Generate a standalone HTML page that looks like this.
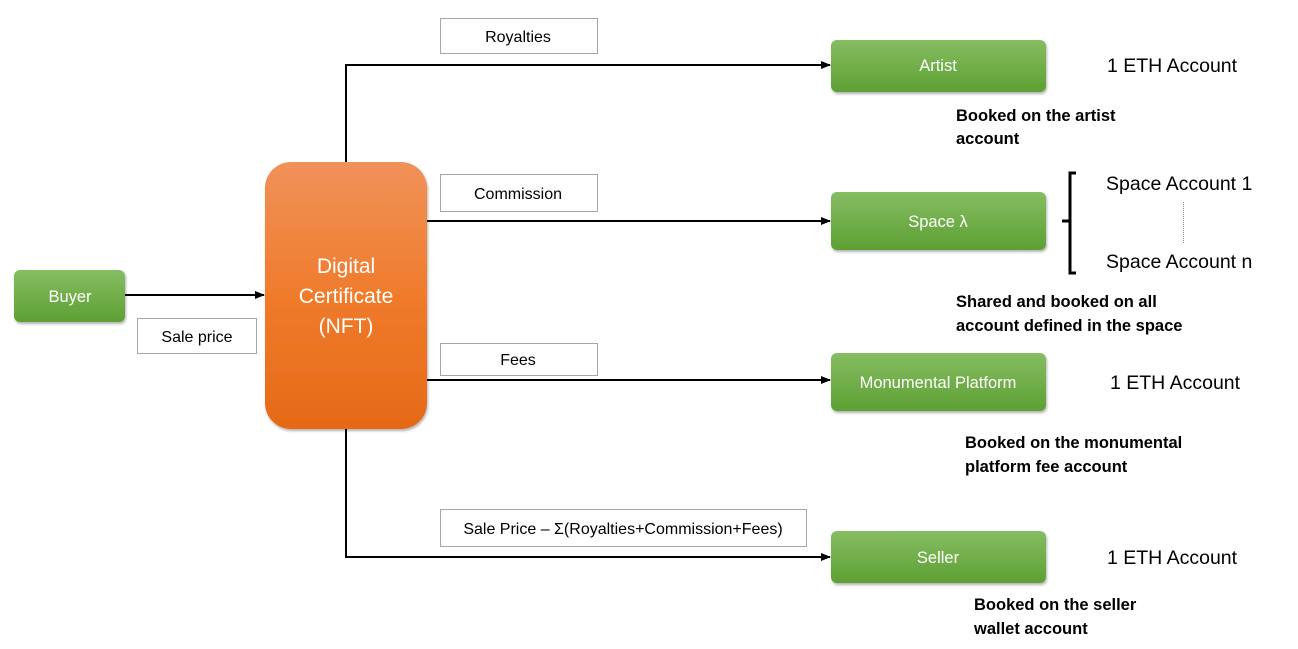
<!DOCTYPE html>
<html><head><meta charset="utf-8"><style>
body{margin:0;background:#fff;}
svg{display:block;font-family:"Liberation Sans",sans-serif;}
</style></head><body>
<svg width="1298" height="649" viewBox="0 0 1298 649" xmlns="http://www.w3.org/2000/svg">
<defs>
<linearGradient id="g" x1="0" y1="0" x2="0" y2="1"><stop offset="0" stop-color="#86bd62"/><stop offset="1" stop-color="#5da033"/></linearGradient>
<linearGradient id="o" x1="0" y1="0" x2="0" y2="1"><stop offset="0" stop-color="#f0925a"/><stop offset="0.5" stop-color="#f07b2c"/><stop offset="1" stop-color="#e56a17"/></linearGradient>
<marker id="a" markerWidth="10" markerHeight="8" refX="9" refY="4" orient="auto" markerUnits="userSpaceOnUse"><path d="M0,0 L10,4 L0,8z" fill="#000"/></marker>
<filter id="s" x="-10%" y="-10%" width="120%" height="130%"><feDropShadow dx="1" dy="2" stdDeviation="1.2" flood-color="#000" flood-opacity="0.3"/></filter>
</defs>
<g stroke="#000" stroke-width="2" fill="none">
<path d="M125,295 H264" marker-end="url(#a)"/>
<path d="M346,162 V65 H830" marker-end="url(#a)"/>
<path d="M427,221 H830" marker-end="url(#a)"/>
<path d="M427,380 H830" marker-end="url(#a)"/>
<path d="M346,429 V557 H830" marker-end="url(#a)"/>
</g>
<g filter="url(#s)">
<rect x="14" y="270" width="111" height="52" rx="6" fill="url(#g)"/>
<rect x="265" y="162" width="162" height="267" rx="26" fill="url(#o)"/>
<rect x="831" y="40" width="215" height="52" rx="6" fill="url(#g)"/>
<rect x="831" y="192" width="215" height="58" rx="6" fill="url(#g)"/>
<rect x="831" y="353" width="215" height="58" rx="6" fill="url(#g)"/>
<rect x="831" y="531" width="215" height="52" rx="6" fill="url(#g)"/>
</g>
<g fill="#fff" stroke="#a6a6a6" stroke-width="1">
<rect x="440.5" y="18.5" width="157" height="35"/>
<rect x="440.5" y="174.5" width="157" height="37"/>
<rect x="440.5" y="343.5" width="157" height="32"/>
<rect x="440.5" y="509.5" width="366" height="37"/>
<rect x="137.5" y="318.5" width="119" height="35"/>
</g>
<g font-size="16" text-anchor="middle" fill="#000">
<text x="518" y="42">Royalties</text>
<text x="518" y="199">Commission</text>
<text x="518" y="365">Fees</text>
<text x="623" y="534">Sale Price – Σ(Royalties+Commission+Fees)</text>
<text x="197" y="342">Sale price</text>
</g>
<g font-size="16.5" text-anchor="middle" fill="#fff">
<text x="70" y="302">Buyer</text>
<text x="938" y="71">Artist</text>
<text x="938" y="227">Space λ</text>
<text x="938" y="388">Monumental Platform</text>
<text x="938" y="563">Seller</text>
</g>
<g font-size="21" text-anchor="middle" fill="#fff">
<text x="346" y="273">Digital</text>
<text x="346" y="303">Certificate</text>
<text x="346" y="333">(NFT)</text>
</g>
<g font-size="19.5" fill="#000">
<text x="1107" y="72">1 ETH Account</text>
<text x="1110" y="389">1 ETH Account</text>
<text x="1107" y="564">1 ETH Account</text>
<text x="1106" y="190">Space Account 1</text>
<text x="1106" y="268">Space Account n</text>
</g>
<g font-size="16.5" font-weight="bold" fill="#000">
<text x="956" y="121">Booked on the artist</text>
<text x="956" y="144">account</text>
<text x="956" y="307">Shared and booked on all</text>
<text x="956" y="331">account defined in the space</text>
<text x="965" y="448">Booked on the monumental</text>
<text x="965" y="472">platform fee account</text>
<text x="974" y="610">Booked on the seller</text>
<text x="974" y="634">wallet account</text>
</g>
<path d="M1076,173 H1070 V221 H1062 M1070,221 V273 H1076" stroke="#000" stroke-width="3" fill="none"/>
<line x1="1183.5" y1="202" x2="1183.5" y2="243" stroke="#888" stroke-width="1" stroke-dasharray="1,1"/>
</svg>
</body></html>
